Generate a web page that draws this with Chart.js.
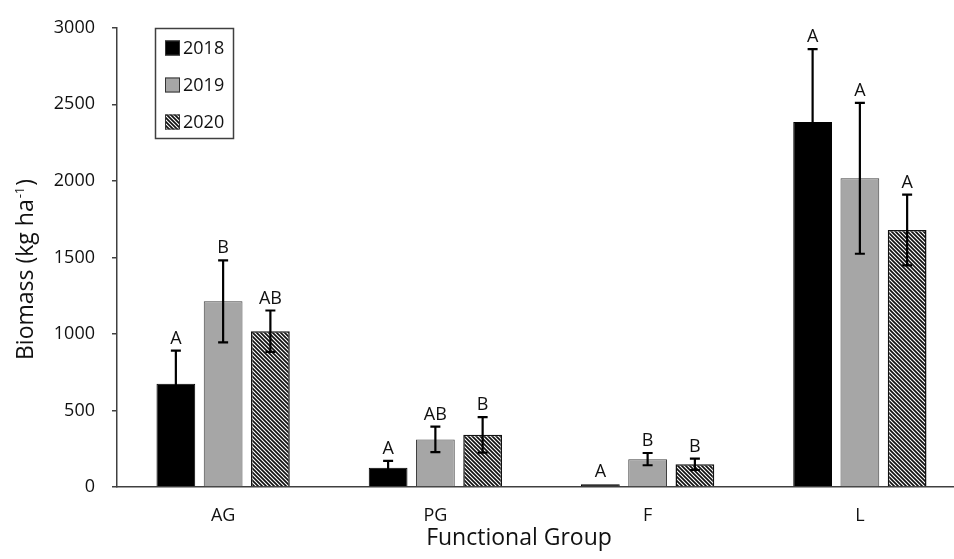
<!DOCTYPE html>
<html>
<head>
<meta charset="utf-8">
<script src="https://cdn.jsdelivr.net/npm/chart.js@4.4.0/dist/chart.umd.min.js"></script>
<style>
  html, body { margin: 0; padding: 0; background: #fff; overflow: hidden; }
  canvas { display: block; }
</style>
</head>
<body>
<canvas id="chart" width="970" height="559"></canvas>
<script>
// data
const categories = ['AG', 'PG', 'F', 'L'];
const years = ['2018', '2019', '2020'];
const mean2018 = [674, 126, 18, 2384];
const mean2019 = [1213, 311, 182, 2017];
const mean2020 = [1018, 341, 148, 1679];
const se2018 = [217, 45, 0, 477];
const se2019 = [268, 83, 40, 493];
const se2020 = [135, 116, 37, 231];
const letters2018 = ['A', 'A', 'A', 'A'];
const letters2019 = ['B', 'AB', 'B', 'A'];
const letters2020 = ['AB', 'B', 'B', 'A'];
const yTicks = [0, 500, 1000, 1500, 2000, 2500, 3000];

const FONT = '"Open Sans", "DejaVu Sans", sans-serif';
const INK = '#111';

// diagonal hatch for 2020
function makeHatch() {
  const c = document.createElement('canvas');
  c.width = 4; c.height = 4;
  const g = c.getContext('2d');
  g.fillStyle = '#fff';
  g.fillRect(0, 0, 4, 4);
  g.strokeStyle = '#111';
  g.lineWidth = 1.7;
  g.beginPath();
  g.moveTo(-1, -1); g.lineTo(5, 5);
  g.moveTo(-1, 3); g.lineTo(1, 5);
  g.moveTo(3, -1); g.lineTo(5, 1);
  g.stroke();
  return document.getElementById('chart').getContext('2d').createPattern(c, 'repeat');
}
const hatch = makeHatch();

const errs = [se2018, se2019, se2020];
const letters = [letters2018, letters2019, letters2020];

const errorBars = {
  id: 'errorBars',
  afterDatasetsDraw(chart) {
    const ctx = chart.ctx;
    const y = chart.scales.y;
    ctx.save();
    chart.data.datasets.forEach((ds, di) => {
      const meta = chart.getDatasetMeta(di);
      meta.data.forEach((bar, i) => {
        const v = ds.data[i];
        const e = errs[di][i];
        const top = y.getPixelForValue(v + e);
        if (e > 0) {
          const bot = y.getPixelForValue(v - e);
          ctx.strokeStyle = '#000';
          ctx.lineWidth = 2.2;
          ctx.beginPath();
          ctx.moveTo(bar.x, top); ctx.lineTo(bar.x, bot);
          ctx.moveTo(bar.x - 5, top); ctx.lineTo(bar.x + 5, top);
          ctx.moveTo(bar.x - 5, bot); ctx.lineTo(bar.x + 5, bot);
          ctx.stroke();
        }
        ctx.fillStyle = INK;
        ctx.font = '18px ' + FONT;
        ctx.textAlign = 'center';
        ctx.textBaseline = 'alphabetic';
        ctx.fillText(letters[di][i], bar.x, top - 7);
      });
    });
    ctx.restore();
  }
};

const extras = {
  id: 'extras',
  afterDraw(chart) {
    const ctx = chart.ctx;
    ctx.save();
    // legend box
    ctx.strokeStyle = '#404040';
    ctx.lineWidth = 1.5;
    ctx.strokeRect(155.5, 28.5, 78, 110);
    const rows = [48, 85, 122];
    chart.data.datasets.forEach((ds, di) => {
      const cy = rows[di];
      ctx.fillStyle = ds.backgroundColor;
      ctx.fillRect(165, cy - 7.5, 15, 15);
      ctx.strokeStyle = '#333';
      ctx.lineWidth = 1;
      ctx.strokeRect(165.5, cy - 7, 14, 14);
      ctx.fillStyle = INK;
      ctx.font = '18px ' + FONT;
      ctx.textAlign = 'left';
      ctx.textBaseline = 'middle';
      ctx.fillText(ds.label, 183, cy + 1);
    });
    // x title
    ctx.font = '23px ' + FONT;
    ctx.textAlign = 'center';
    ctx.textBaseline = 'alphabetic';
    ctx.fillText('Functional Group', 519, 545);
    // y title with superscript
    ctx.translate(33, 360);
    ctx.rotate(-Math.PI / 2);
    ctx.textAlign = 'left';
    ctx.font = '23px ' + FONT;
    const a = 'Biomass (kg ha';
    ctx.fillText(a, 0, 0);
    let w = ctx.measureText(a).width;
    ctx.font = '13px ' + FONT;
    ctx.fillText('-1', w + 1, -9);
    w += ctx.measureText('-1').width + 2;
    ctx.font = '23px ' + FONT;
    ctx.fillText(')', w, 0);
    ctx.restore();
  }
};

new Chart(document.getElementById('chart'), {
  type: 'bar',
  data: {
    labels: categories,
    datasets: [
      { label: years[0], data: mean2018, backgroundColor: '#000', borderColor: '#000', borderWidth: 1 },
      { label: years[1], data: mean2019, backgroundColor: '#a6a6a6', borderColor: '#404040', borderWidth: 1 },
      { label: years[2], data: mean2020, backgroundColor: hatch, borderColor: '#111', borderWidth: 1.5 }
    ]
  },
  options: {
    responsive: false,
    animation: false,
    devicePixelRatio: 1,
    layout: { padding: { top: 22, right: 4, left: 0, bottom: 0 } },
    datasets: { bar: { barPercentage: 0.82, categoryPercentage: 0.668, borderSkipped: 'start' } },
    plugins: { legend: { display: false }, tooltip: { enabled: false } },
    scales: {
      x: {
        grid: { display: false, drawTicks: false },
        border: { display: true, color: '#404040', width: 1.5 },
        ticks: { color: INK, font: { family: FONT, size: 18 }, padding: 18 },
        afterFit(s) { s.height = 72; }
      },
      y: {
        min: 0, max: 3000,
        afterBuildTicks(s) { s.ticks = yTicks.map(v => ({ value: v })); },
        grid: { drawOnChartArea: false, drawTicks: true, tickLength: 5, color: '#404040', lineWidth: 1.5 },
        border: { display: true, color: '#404040', width: 1.5 },
        ticks: { color: INK, font: { family: FONT, size: 18 }, padding: 17, callback: v => String(v) },
        afterFit(s) { s.width = 117; }
      }
    }
  },
  plugins: [errorBars, extras]
});
</script>
</body>
</html>
